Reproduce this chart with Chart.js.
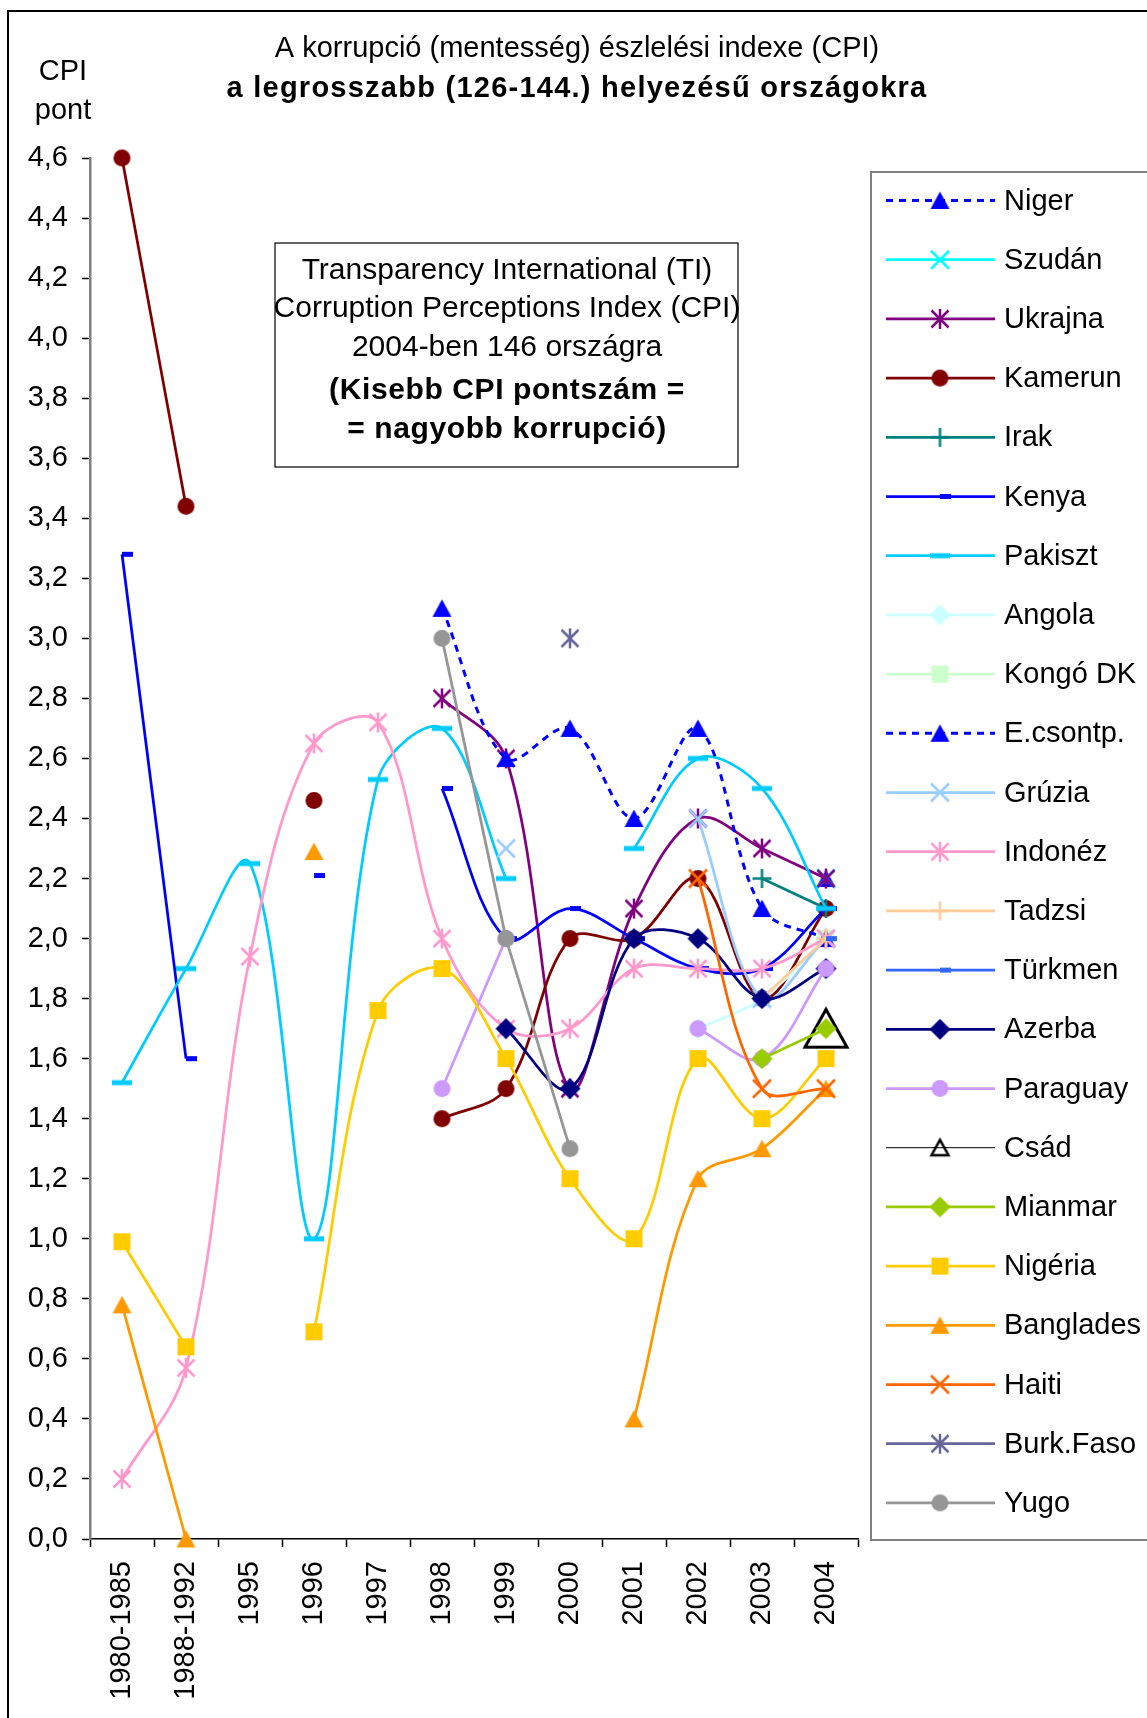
<!DOCTYPE html>
<html>
<head>
<meta charset="utf-8">
<script src="https://cdn.jsdelivr.net/npm/chart.js@4.4.0/dist/chart.umd.min.js"></script>
<style>
  html, body { margin: 0; padding: 0; background: #fff; overflow: hidden; }
  canvas { display: block; }
</style>
</head>
<body>
<canvas id="cpiChart" width="1147" height="1718"></canvas>
<script>
// --- adatok (CPI pontszámok, leolvasva) ---
var categories = ['1980-1985', '1988-1992', '1995', '1996', '1997', '1998', '1999', '2000', '2001', '2002', '2003', '2004'];

var niger     = [null, null, null, null, null, null, null, null, null, null, null, 2.2];
var szudan    = [null, null, null, null, null, null, null, null, null, null, null, 2.2];
var ukrajna   = [null, null, null, null, null, 2.8, 2.6, 1.5, 2.1, 2.4, 2.3, 2.2];
var kamerun   = [4.6, 3.44, null, 2.46, null, 1.4, 1.5, 2.0, 2.0, 2.2, 1.8, 2.1];
var irak      = [null, null, null, null, null, null, null, null, null, null, 2.2, 2.1];
var kenya     = [3.28, 1.6, null, 2.21, null, 2.5, 2.0, 2.1, 2.0, 1.9, 1.9, 2.1];
var pakiszt   = [1.52, 1.9, 2.25, 1.0, 2.53, 2.7, 2.2, null, 2.3, 2.6, 2.5, 2.1];
var angola    = [null, null, null, null, null, null, null, null, null, 1.7, 1.8, 2.0];
var kongo     = [null, null, null, null, null, null, null, null, null, null, null, 2.0];
var ecsontp   = [null, null, null, null, null, 3.1, 2.6, 2.7, 2.4, 2.7, 2.1, 2.0];
var gruzia    = [null, null, null, null, null, null, 2.3, null, null, 2.4, 1.8, 2.0];
var indonez   = [0.2, 0.57, 1.94, 2.65, 2.72, 2.0, 1.7, 1.7, 1.9, 1.9, 1.9, 2.0];
var tadzsi    = [null, null, null, null, null, null, null, null, null, null, 1.8, 2.0];
var turkmen   = [null, null, null, null, null, null, null, null, null, null, null, 2.0];
var azerba    = [null, null, null, null, null, null, 1.7, 1.5, 2.0, 2.0, 1.8, 1.9];
var paraguay  = [null, null, null, null, null, 1.5, 2.0, null, null, 1.7, 1.6, 1.9];
var csad      = [null, null, null, null, null, null, null, null, null, null, null, 1.7];
var mianmar   = [null, null, null, null, null, null, null, null, null, null, 1.6, 1.7];
var nigeria   = [0.99, 0.64, null, 0.69, 1.76, 1.9, 1.6, 1.2, 1.0, 1.6, 1.4, 1.6];
var banglades = [0.78, 0.0, null, 2.29, null, null, null, null, 0.4, 1.2, 1.3, 1.5];
var haiti     = [null, null, null, null, null, null, null, null, null, 2.2, 1.5, 1.5];
var burkina   = [null, null, null, null, null, null, null, 3.0, null, null, null, null];
var yugo      = [null, null, null, null, null, 3.0, 2.0, 1.3, null, null, null, null];

var FONT = "'Liberation Sans', Arial, sans-serif";

// Excel-szerű jelölők saját vásznon
function marker(shape, color, size, fill, lw) {
  var c = document.createElement('canvas');
  var w = size + 8, h = size + 8;
  if (shape === 'dashR') w = size * 2 + 8;
  c.width = w; c.height = h;
  var g = c.getContext('2d');
  var cx = w / 2, cy = h / 2, r = size / 2;
  g.strokeStyle = color;
  g.fillStyle = fill || color;
  g.lineWidth = lw || 2.5;
  g.beginPath();
  switch (shape) {
    case 'circle':
      g.arc(cx, cy, r, 0, Math.PI * 2); g.fill(); break;
    case 'square':
      g.fillRect(cx - r, cy - r, size, size); break;
    case 'diamond':
      g.moveTo(cx, cy - r); g.lineTo(cx + r, cy); g.lineTo(cx, cy + r); g.lineTo(cx - r, cy);
      g.closePath(); g.fill(); break;
    case 'tri':
      g.moveTo(cx, cy - r * 0.95); g.lineTo(cx + r, cy + r * 0.9); g.lineTo(cx - r, cy + r * 0.9);
      g.closePath(); g.fill(); break;
    case 'triOpen':
      g.moveTo(cx, cy - r * 0.92); g.lineTo(cx + r, cy + r * 0.88); g.lineTo(cx - r, cy + r * 0.88);
      g.closePath(); g.stroke(); break;
    case 'x':
      g.moveTo(cx - r, cy - r); g.lineTo(cx + r, cy + r);
      g.moveTo(cx + r, cy - r); g.lineTo(cx - r, cy + r); g.stroke(); break;
    case 'star':
      var d = r * 0.85;
      g.moveTo(cx - d, cy - d); g.lineTo(cx + d, cy + d);
      g.moveTo(cx + d, cy - d); g.lineTo(cx - d, cy + d);
      g.moveTo(cx, cy - r); g.lineTo(cx, cy + r); g.stroke(); break;
    case 'plus':
      g.moveTo(cx - r, cy); g.lineTo(cx + r, cy);
      g.moveTo(cx, cy - r); g.lineTo(cx, cy + r); g.stroke(); break;
    case 'dash':
      g.fillRect(cx - r, cy - 2.5, size, 5); break;
    case 'dashR':
      g.fillRect(cx, cy - 2.5, size, 5); break;
  }
  return c;
}

var series = [
  { label: 'Niger',     data: niger,     color: '#0000FF', mk: marker('tri', '#0000FF', 19), dash: [7, 6], bw: 3 },
  { label: 'Szudán',    data: szudan,    color: '#00FFFF', mk: marker('x', '#00FFFF', 18) },
  { label: 'Ukrajna',   data: ukrajna,   color: '#800080', mk: marker('star', '#800080', 20) },
  { label: 'Kamerun',   data: kamerun,   color: '#800000', mk: marker('circle', '#800000', 17) },
  { label: 'Irak',      data: irak,      color: '#008080', mk: marker('plus', '#008080', 19) },
  { label: 'Kenya',     data: kenya,     color: '#0000FF', mk: marker('dashR', '#0000FF', 11) },
  { label: 'Pakiszt',   data: pakiszt,   color: '#00CCFF', mk: marker('dash', '#00CCFF', 20) },
  { label: 'Angola',    data: angola,    color: '#CCFFFF', mk: marker('diamond', '#CCFFFF', 21) },
  { label: 'Kongó DK',  data: kongo,     color: '#CCFFCC', mk: marker('square', '#CCFFCC', 17) },
  { label: 'E.csontp.', data: ecsontp,   color: '#0000FF', mk: marker('tri', '#0000FF', 19), dash: [7, 6], bw: 3 },
  { label: 'Grúzia',    data: gruzia,    color: '#99CCFF', mk: marker('x', '#99CCFF', 18) },
  { label: 'Indonéz',   data: indonez,   color: '#FF99CC', mk: marker('star', '#FF99CC', 20) },
  { label: 'Tadzsi',    data: tadzsi,    color: '#FFCC99', mk: marker('plus', '#FFCC99', 19) },
  { label: 'Türkmen',   data: turkmen,   color: '#3366FF', mk: marker('dashR', '#3366FF', 11) },
  { label: 'Azerba',    data: azerba,    color: '#000080', mk: marker('diamond', '#000080', 21) },
  { label: 'Paraguay',  data: paraguay,  color: '#CC99FF', mk: marker('circle', '#CC99FF', 17) },
  { label: 'Csád',      data: csad,      color: '#000000', mk: marker('triOpen', '#000000', 42, null, 3), legendMk: marker('triOpen', '#000000', 17, null, 2.5), bw: 1 },
  { label: 'Mianmar',   data: mianmar,   color: '#99CC00', mk: marker('diamond', '#99CC00', 21) },
  { label: 'Nigéria',   data: nigeria,   color: '#FFCC00', mk: marker('square', '#FFCC00', 17) },
  { label: 'Banglades', data: banglades, color: '#FF9900', mk: marker('tri', '#FF9900', 19) },
  { label: 'Haiti',     data: haiti,     color: '#FF6600', mk: marker('x', '#FF6600', 18) },
  { label: 'Burk.Faso', data: burkina,   color: '#666699', mk: marker('star', '#666699', 20) },
  { label: 'Yugo',      data: yugo,      color: '#969696', mk: marker('circle', '#969696', 17), tension: 0 }
];

var datasets = series.map(function (s, i) {
  return {
    label: s.label,
    data: s.data,
    borderColor: s.color,
    backgroundColor: s.color,
    borderWidth: s.bw || 2.75,
    borderDash: s.dash || [],
    pointStyle: s.mk,
    pointRadius: 6,
    pointHoverRadius: 6,
    tension: s.tension === undefined ? 0.35 : s.tension,
    spanGaps: false,
    clip: false,
    order: series.length - i
  };
});

function centerText(ctx, text, x, y, font, spacing) {
  ctx.font = font;
  ctx.letterSpacing = (spacing || 0) + 'px';
  ctx.textAlign = 'center';
  ctx.textBaseline = 'middle';
  ctx.fillText(text, x, y);
  ctx.letterSpacing = '0px';
}

// címek, szövegdoboz, jelmagyarázat
var extras = {
  id: 'extras',
  afterDraw: function (chart) {
    var ctx = chart.ctx;
    ctx.save();
    ctx.fillStyle = '#000';

    // keret
    ctx.strokeStyle = '#000';
    ctx.lineWidth = 2;
    ctx.strokeRect(8, 11, 1200, 1800);

    centerText(ctx, 'A korrupció (mentesség) észlelési indexe (CPI)', 577, 49, '29px ' + FONT);
    centerText(ctx, 'a legrosszabb (126-144.) helyezésű országokra', 577, 89, 'bold 29px ' + FONT, 1.25);
    centerText(ctx, 'CPI', 63, 72, '29px ' + FONT);
    centerText(ctx, 'pont', 63, 111, '29px ' + FONT);

    // szövegdoboz
    ctx.fillStyle = '#fff';
    ctx.fillRect(275, 243, 463, 224);
    ctx.strokeStyle = '#000';
    ctx.lineWidth = 1.2;
    ctx.strokeRect(275, 243, 463, 224);
    ctx.fillStyle = '#000';
    centerText(ctx, 'Transparency International (TI)', 507, 271, '30px ' + FONT);
    centerText(ctx, 'Corruption Perceptions Index (CPI)', 507, 309, '30px ' + FONT);
    centerText(ctx, '2004-ben 146 országra', 507, 348, '30px ' + FONT);
    centerText(ctx, '(Kisebb CPI pontszám =', 507, 391, 'bold 30px ' + FONT, 0.6);
    centerText(ctx, '= nagyobb korrupció)', 507, 430, 'bold 30px ' + FONT, 0.6);

    // jelmagyarázat
    ctx.fillStyle = '#fff';
    ctx.fillRect(871, 172, 300, 1368);
    ctx.strokeStyle = '#808080';
    ctx.lineWidth = 2;
    ctx.strokeRect(871, 172, 300, 1368);
    series.forEach(function (s, i) {
      var y = 200.5 + i * 59.2;
      ctx.strokeStyle = s.color;
      ctx.lineWidth = s.bw || 2.75;
      ctx.setLineDash(s.dash || []);
      ctx.beginPath();
      ctx.moveTo(886, y);
      ctx.lineTo(995, y);
      ctx.stroke();
      ctx.setLineDash([]);
      var m = s.legendMk || s.mk;
      ctx.drawImage(m, 940 - m.width / 2, y - m.height / 2);
      ctx.fillStyle = '#000';
      ctx.font = '29px ' + FONT;
      ctx.textAlign = 'left';
      ctx.textBaseline = 'middle';
      ctx.fillText(s.label, 1004, y + 1);
    });
    ctx.restore();
  }
};

new Chart(document.getElementById('cpiChart'), {
  type: 'line',
  data: { labels: categories, datasets: datasets },
  plugins: [extras],
  options: {
    responsive: false,
    animation: false,
    devicePixelRatio: 1,
    events: [],
    layout: { padding: { left: 0, top: 158, right: 289, bottom: 0 } },
    plugins: { legend: { display: false }, title: { display: false }, tooltip: { enabled: false } },
    scales: {
      x: {
        type: 'category',
        offset: true,
        grid: { offset: true, drawOnChartArea: false, drawTicks: true, tickLength: 8, tickColor: '#000', tickWidth: 1.5 },
        border: { display: true, color: '#000', width: 1.5 },
        ticks: { color: '#000', font: { family: FONT, size: 29 }, minRotation: 90, maxRotation: 90, autoSkip: false, padding: 14 },
        afterFit: function (scale) { scale.height = 179; }
      },
      y: {
        min: 0,
        max: 4.6,
        grid: { drawOnChartArea: false, drawTicks: true, tickLength: 8, tickColor: '#000', tickWidth: 1.5 },
        border: { display: true, color: '#808080', width: 2.5 },
        ticks: {
          stepSize: 0.2,
          color: '#000',
          font: { family: FONT, size: 29 },
          padding: 14,
          callback: function (v) { return v.toFixed(1).replace('.', ','); }
        },
        afterFit: function (scale) { scale.width = 90; }
      }
    }
  }
});
</script>
</body>
</html>
